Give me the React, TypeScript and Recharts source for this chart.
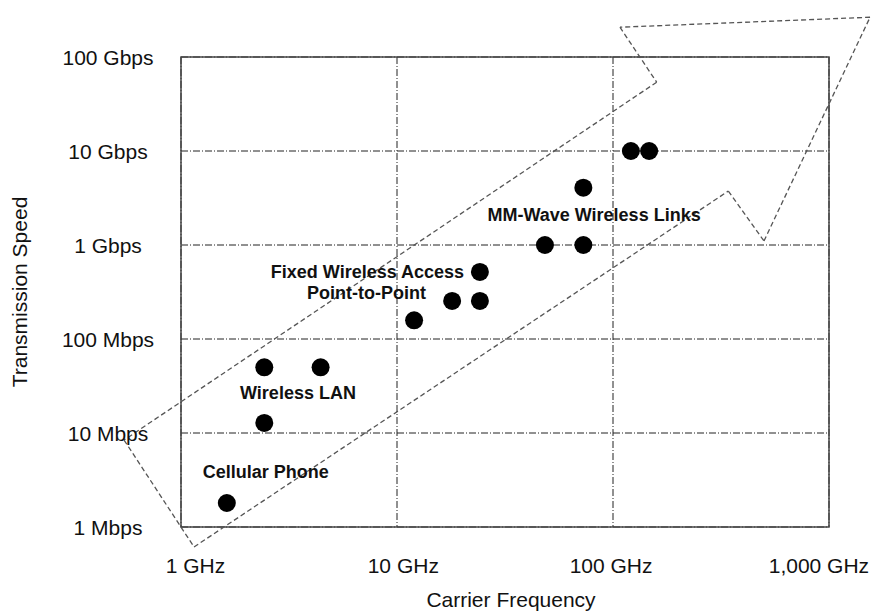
import {
  ScatterChart,
  Scatter,
  XAxis,
  YAxis,
  CartesianGrid,
  ReferenceLine,
  ReferenceArea,
} from "recharts";

const FONT = '"Liberation Sans", Arial, Helvetica, sans-serif';
const INK = "#111111";

// axes (GHz / Mbps, log scales)
const FREQ_TICKS = [1, 10, 100, 1000];
const FREQ_LABELS = ["1 GHz", "10 GHz", "100 GHz", "1,000 GHz"];
const SPEED_TICKS = [1, 10, 100, 1000, 10000, 100000];
const SPEED_LABELS = ["1 Mbps", "10 Mbps", "100 Mbps", "1 Gbps", "10 Gbps", "100 Gbps"];

// systems
const POINT_FREQ = [1.63, 2.43, 4.43, 2.43, 12.0, 18.0, 24.2, 24.2, 48.4, 72.9, 72.9, 121, 147];
const POINT_SPEED = [1.8, 50, 50, 12.8, 158, 254, 254, 517, 1000, 1000, 4070, 10000, 10000];

// group captions
const LABEL_TEXT = [
  "Cellular Phone",
  "Wireless LAN",
  "Fixed Wireless Access",
  "Point-to-Point",
  "MM-Wave Wireless Links",
];
const LABEL_FREQ = [2.47, 3.48, 7.3, 7.22, 81.7];
const LABEL_SPEED = [3.84, 26.5, 519, 307, 2069];

// trend arrow outline, vertex by vertex
const ARROW_FREQ = [0.545, 1.149, 342, 500, 1549, 107.7, 159.3];
const ARROW_SPEED = [8.41, 0.613, 3750, 1103, 264800, 207400, 53960];

const points = POINT_FREQ.map((f, i) => ({ freq: f, speed: POINT_SPEED[i] }));
const captions = LABEL_TEXT.map((t, i) => ({
  text: t,
  freq: LABEL_FREQ[i],
  speed: LABEL_SPEED[i],
}));
const arrowSegments = ARROW_FREQ.map((f, i) => {
  const j = (i + 1) % ARROW_FREQ.length;
  return [
    { x: f, y: ARROW_SPEED[i] },
    { x: ARROW_FREQ[j], y: ARROW_SPEED[j] },
  ];
});

// the original labels sit slightly tighter than the gridlines
const FreqTick = (p: any) => {
  const i = FREQ_TICKS.indexOf(p.payload.value);
  return (
    <text
      x={p.x + 14.5 - 8.2 * i}
      y={p.y + 46}
      textAnchor="middle"
      fontSize={21}
      fontFamily={FONT}
      fill={INK}
    >
      {FREQ_LABELS[i]}
    </text>
  );
};

const SpeedTick = (p: any) => (
  <text
    x={108}
    y={p.y}
    textAnchor="middle"
    dominantBaseline="central"
    fontSize={21}
    fontFamily={FONT}
    fill={INK}
  >
    {SPEED_LABELS[SPEED_TICKS.indexOf(p.payload.value)]}
  </text>
);

const Dot = (p: any) => <circle cx={p.cx} cy={p.cy} r={9} fill="#000" />;

const Caption = (p: any) => (
  <text
    x={p.cx}
    y={p.cy}
    textAnchor="middle"
    dominantBaseline="central"
    fontSize={18}
    fontWeight="bold"
    fontFamily={FONT}
    fill={INK}
  >
    {p.payload.text}
  </text>
);

export default function App() {
  return (
    <div style={{ position: "absolute", left: 0, top: 0, background: "#fff" }}>
      <ScatterChart
        width={877}
        height={612}
        margin={{ top: 57, right: 48, bottom: 0, left: 0 }}
      >
        <CartesianGrid stroke="#222" strokeDasharray="7 2 1 2" />
        <XAxis
          type="number"
          dataKey="freq"
          scale="log"
          domain={[1, 1000]}
          ticks={FREQ_TICKS}
          tick={<FreqTick />}
          axisLine={false}
          tickLine={false}
          tickSize={0}
          tickMargin={0}
          height={85}
          label={{
            value: "Carrier Frequency",
            position: "insideBottom",
            offset: 5,
            dx: 6,
            fontSize: 21,
            fontFamily: FONT,
            fill: INK,
          }}
        />
        <YAxis
          type="number"
          dataKey="speed"
          scale="log"
          domain={[1, 100000]}
          ticks={SPEED_TICKS}
          tick={<SpeedTick />}
          axisLine={false}
          tickLine={false}
          width={181}
          label={{
            value: "Transmission Speed",
            angle: -90,
            position: "insideLeft",
            offset: 20,
            fontSize: 21,
            fontFamily: FONT,
            fill: INK,
            style: { textAnchor: "middle" },
          }}
        />
        <ReferenceArea
          x1={1}
          x2={1000}
          y1={1}
          y2={100000}
          fill="none"
          stroke="#444"
          strokeWidth={1.5}
        />
        {arrowSegments.map((seg, i) => (
          <ReferenceLine
            key={`arrow-${i}`}
            segment={seg}
            ifOverflow="visible"
            stroke="#555"
            strokeWidth={1.3}
            strokeDasharray="5 3"
          />
        ))}
        <Scatter data={points} shape={<Dot />} isAnimationActive={false} />
        <Scatter data={captions} shape={<Caption />} isAnimationActive={false} />
      </ScatterChart>
    </div>
  );
}
